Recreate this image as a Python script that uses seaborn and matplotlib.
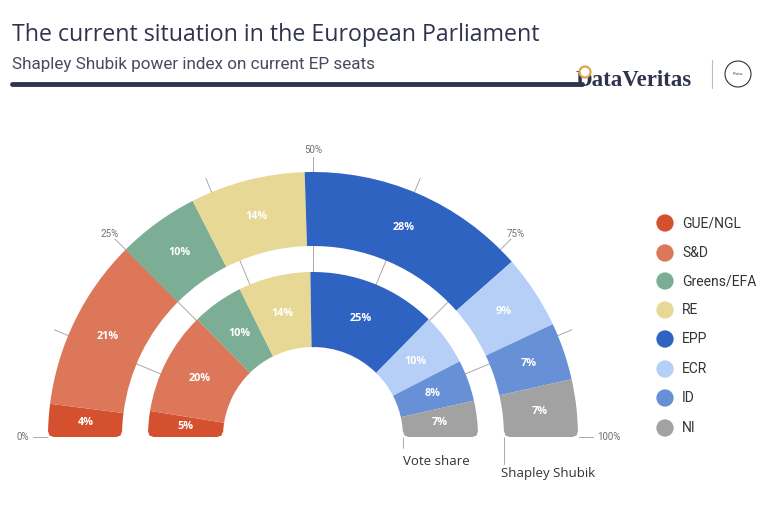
"""
The current situation in the European Parliament
Shapley Shubik power index vs vote share, drawn as two half-donut rings
"""
import numpy as np
import matplotlib.pyplot as plt
import seaborn as sns
from matplotlib.patches import Wedge, Circle, Polygon

sns.set_style("white")
plt.rcParams['font.family'] = ['Open Sans', 'DejaVu Sans']

# Data
parties = ['GUE/NGL', 'S&D', 'Greens/EFA', 'RE', 'EPP', 'ECR', 'ID', 'NI']
colors = ['#d4502e', '#dc775a', '#7bae95', '#e7d896', '#2e63c1',
          '#b5cff6', '#6790d6', '#a2a2a2']
vote_share = [5, 20, 10, 14, 25, 10, 8, 7]
shapley_shubik = [4, 21, 10, 14, 28, 9, 7, 7]
tick_pcts = [0, 12.5, 25, 37.5, 50, 62.5, 75, 87.5, 100]
tick_labels = {0: '0%', 25: '25%', 50: '50%', 75: '75%', 100: '100%'}

W, H = 767, 511
fig = plt.figure(figsize=(W / 100, H / 100), dpi=100)
ax = fig.add_axes([0, 0, 1, 1])
ax.set_xlim(0, W)
ax.set_ylim(0, H)
ax.axis('off')

navy = '#30334e'
cx, cy = 313, H - 437


def ang(p):
    return 180 - 1.8 * p


def round_corner(x0, sx, rad=4.5):
    # white mask that rounds a bottom corner of a ring end
    th = np.linspace(0, np.pi / 2, 12)
    ccx, ccy = x0 + sx * rad, cy + rad
    arc = [(ccx - sx * rad * np.cos(t), ccy - rad * np.sin(t)) for t in th]
    pts = [(x0, cy)] + arc
    ax.add_patch(Polygon(pts, closed=True, facecolor='white',
                         edgecolor='white', lw=0.5, zorder=2.5))


# radial guide lines (behind the rings)
for p in tick_pcts:
    t = np.radians(ang(p))
    r0 = 266 if p in (0, 100) else 90
    ax.plot([cx + r0 * np.cos(t), cx + 280 * np.cos(t)],
            [cy + r0 * np.sin(t), cy + 280 * np.sin(t)],
            color='#a8a8a8', lw=0.7, zorder=1)
    if p in tick_labels:
        ha = 'right' if p == 0 else 'left' if p == 100 else 'center'
        r = 284 if p in (0, 100) else 287
        ax.text(cx + r * np.cos(t), cy + r * np.sin(t), tick_labels[p],
                ha=ha, va='center', fontsize=7, color='#707070', zorder=3,
                family=['Roboto', 'DejaVu Sans'])

# rings
rings = [(vote_share, 90, 165), (shapley_shubik, 191, 265)]
for values, r_in, r_out in rings:
    vals = np.array(values, dtype=float)
    frac = vals / vals.sum() * 100
    edges = np.concatenate([[0], np.cumsum(frac)])
    for i, v in enumerate(values):
        w = Wedge((cx, cy), r_out, ang(edges[i + 1]), ang(edges[i]),
                  width=r_out - r_in, facecolor=colors[i], edgecolor='none',
                  zorder=2)
        ax.add_patch(w)
        mid = np.radians(ang((edges[i] + edges[i + 1]) / 2))
        rm = (r_in + r_out) / 2
        ax.text(cx + rm * np.cos(mid), cy + rm * np.sin(mid), f'{v}%',
                ha='center', va='center', fontsize=7.8, fontweight='bold',
                color='white', zorder=3)
    round_corner(cx - r_out, 1)
    round_corner(cx - r_in, -1)
    round_corner(cx + r_in, 1)
    round_corner(cx + r_out, -1)

# ring captions
ax.plot([403, 403], [H - 437, H - 448], color='#a8a8a8', lw=0.7)
ax.text(403, H - 461, 'Vote share', ha='left', va='center',
        fontsize=9.5, color='#333333')
ax.plot([504, 504], [H - 437, H - 464], color='#a8a8a8', lw=0.7)
ax.text(501, H - 473, 'Shapley Shubik', ha='left', va='center',
        fontsize=9.5, color='#333333')

# legend
leg_y = [223, 253, 281, 310, 339, 369, 398, 428]
for party, col, y in zip(parties, colors, leg_y):
    ax.scatter([665], [H - y], s=155, color=col, edgecolor='none', zorder=3)
    ax.text(682, H - y, party, ha='left', va='center', fontsize=10,
            color='#333333', family=['Roboto', 'DejaVu Sans'])

# header
ax.text(12, H - 35, 'The current situation in the European Parliament',
        ha='left', va='center', fontsize=16.7, color=navy)
ax.text(12, H - 64, 'Shapley Shubik power index on current EP seats',
        ha='left', va='center', fontsize=12.3, color='#474a60',
        family=['Roboto', 'DejaVu Sans'])
ax.plot([12, 582], [H - 84, H - 84], color=navy, lw=3.5,
        solid_capstyle='round')

# logo
ax.text(576, H - 86, 'DataVeritas', ha='left', va='baseline', fontsize=16.5,
        fontweight='bold', color=navy, family=['Liberation Serif', 'DejaVu Serif'])
ax.add_patch(Circle((585, H - 72), 5.5, facecolor='white', edgecolor='#d9a84a',
                    lw=1.6, zorder=4))
ax.plot([712, 712], [H - 60, H - 88], color='#bbbbbb', lw=0.8)
ax.add_patch(Circle((738, H - 74), 13, facecolor='white', edgecolor='#333333',
                    lw=0.8))
ax.text(738, H - 74, 'Pluto.', ha='center', va='center', fontsize=3,
        color='#333333')

plt.savefig('out.png', dpi=100)
